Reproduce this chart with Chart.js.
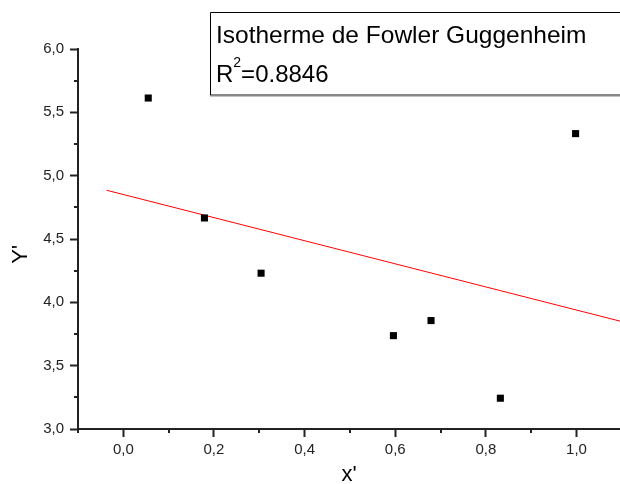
<!DOCTYPE html>
<html lang="fr">
<head>
<meta charset="UTF-8">
<title>Isotherme de Fowler Guggenheim</title>
<script src="https://cdn.jsdelivr.net/npm/chart.js"></script>
<style>
  html, body { margin: 0; padding: 0; background: #fff; }
  #wrap { width: 620px; height: 484px; }
</style>
</head>
<body>
<div id="wrap"><canvas id="chart" width="620" height="484"></canvas></div>

<script>
// points experimentaux (x', Y')
const xPoints = [0.055, 0.179, 0.304, 0.596, 0.679, 0.832, 0.998];
const yPoints = [5.613, 4.666, 4.230, 3.737, 3.856, 3.243, 5.332];

// droite d'ajustement lineaire (extremites)
const fitX = [-0.037, 1.1];
const fitY = [4.885, 3.848];

// graduations
const xTicks = [-0.1, 0.0, 0.1, 0.2, 0.3, 0.4, 0.5, 0.6, 0.7, 0.8, 0.9, 1.0];
const xMajor = [0.0, 0.2, 0.4, 0.6, 0.8, 1.0];
const yTicks = [3.0, 3.25, 3.5, 3.75, 4.0, 4.25, 4.5, 4.75, 5.0, 5.25, 5.5, 5.75, 6.0];
const yMajor = [3.0, 3.5, 4.0, 4.5, 5.0, 5.5, 6.0];

// texte de l'encadre
const boxTitle = 'Isotherme de Fowler Guggenheim';
const r2Label = 'R';
const r2Sup = '2';
const r2Value = '=0.8846';

const FONT = '"Liberation Sans", Arial, sans-serif';
const AXIS = '#222';

Chart.defaults.font.family = FONT;

function virgule(v) {
    return v.toFixed(1).replace('.', ',');
}

// petites graduations intermediaires
const minorTicks = {
    id: 'minorTicks',
    afterDraw(chart) {
        const ctx = chart.ctx;
        const area = chart.chartArea;
        const xs = chart.scales.x, ys = chart.scales.y;
        ctx.save();
        ctx.strokeStyle = AXIS;
        ctx.lineWidth = 2;
        ctx.beginPath();
        xTicks.filter(v => !xMajor.includes(v)).forEach(v => {
            const px = Math.round(xs.getPixelForValue(v));
            ctx.moveTo(px, area.bottom);
            ctx.lineTo(px, area.bottom + 4);
        });
        yTicks.filter(v => !yMajor.includes(v)).forEach(v => {
            const py = Math.round(ys.getPixelForValue(v));
            ctx.moveTo(area.left, py);
            ctx.lineTo(area.left - 4, py);
        });
        ctx.stroke();
        ctx.restore();
    }
};

// encadre en haut a droite
const textBox = {
    id: 'textBox',
    afterDraw(chart) {
        const ctx = chart.ctx;
        ctx.save();
        ctx.fillStyle = '#fff';
        ctx.fillRect(210, 12, 420, 84);
        ctx.fillStyle = '#888';
        ctx.fillRect(210, 94, 420, 2.5);
        ctx.strokeStyle = '#000';
        ctx.lineWidth = 1;
        ctx.beginPath();
        ctx.moveTo(210.5, 95);
        ctx.lineTo(210.5, 12.5);
        ctx.lineTo(620, 12.5);
        ctx.stroke();

        ctx.fillStyle = '#000';
        ctx.textBaseline = 'alphabetic';
        ctx.textAlign = 'left';
        ctx.font = '24.5px ' + FONT;
        ctx.fillText(boxTitle, 216, 43);

        let x = 216;
        ctx.font = '24px ' + FONT;
        ctx.fillText(r2Label, x, 81.5);
        x += ctx.measureText(r2Label).width;
        ctx.font = '14px ' + FONT;
        ctx.fillText(r2Sup, x, 67);
        x += ctx.measureText(r2Sup).width;
        ctx.font = '24px ' + FONT;
        ctx.fillText(r2Value, x, 81.5);
        ctx.restore();
    }
};

new Chart(document.getElementById('chart'), {
    type: 'scatter',
    data: {
        datasets: [
            {
                label: 'points',
                data: xPoints.map((x, i) => ({ x: x, y: yPoints[i] })),
                pointStyle: 'rect',
                pointRadius: 5,
                backgroundColor: '#000',
                borderWidth: 0,
                order: 0
            },
            {
                label: 'ajustement',
                data: fitX.map((x, i) => ({ x: x, y: fitY[i] })),
                showLine: true,
                pointRadius: 0,
                borderColor: '#ff0000',
                borderWidth: 1,
                order: 1
            }
        ]
    },
    options: {
        responsive: false,
        animation: false,
        devicePixelRatio: 1,
        layout: {
            autoPadding: false,
            padding: { top: 49, right: 0, bottom: 0, left: 0 }
        },
        plugins: {
            legend: { display: false },
            tooltip: { enabled: false }
        },
        scales: {
            x: {
                type: 'linear',
                min: -0.1,
                max: 1.096,
                afterBuildTicks: s => { s.ticks = xTicks.map(v => ({ value: v })); },
                afterFit: s => {
                    s.height = 55;
                    s.paddingLeft = 0;
                    s.paddingRight = 0;
                },
                border: { display: true, color: AXIS, width: 2 },
                grid: {
                    drawOnChartArea: false,
                    drawTicks: true,
                    tickLength: 8,
                    tickWidth: 2,
                    tickColor: c => xMajor.includes(c.tick.value) ? AXIS : 'rgba(0,0,0,0)'
                },
                ticks: {
                    autoSkip: false,
                    maxRotation: 0,
                    padding: 4,
                    color: AXIS,
                    font: { size: 15 },
                    callback: v => xMajor.includes(v) ? virgule(v) : ''
                },
                title: {
                    display: true,
                    text: "x'",
                    color: '#000',
                    font: { size: 22, lineHeight: 0.78 },
                    padding: 0
                }
            },
            y: {
                type: 'linear',
                min: 3,
                max: 6,
                afterBuildTicks: s => { s.ticks = yTicks.map(v => ({ value: v })); },
                afterFit: s => { s.width = 78; },
                border: { display: true, color: AXIS, width: 2 },
                grid: {
                    drawOnChartArea: false,
                    drawTicks: true,
                    tickLength: 8,
                    tickWidth: 2,
                    tickColor: c => yMajor.includes(c.tick.value) ? AXIS : 'rgba(0,0,0,0)'
                },
                ticks: {
                    autoSkip: false,
                    padding: 6,
                    color: AXIS,
                    font: { size: 15 },
                    callback: v => yMajor.includes(v) ? virgule(v) : ''
                },
                title: {
                    display: true,
                    text: "Y'     ",
                    color: '#000',
                    font: { size: 22, lineHeight: 0.78 },
                    padding: { top: 12, bottom: 0 }
                }
            }
        }
    },
    plugins: [minorTicks, textBox]
});
</script>
</body>
</html>
